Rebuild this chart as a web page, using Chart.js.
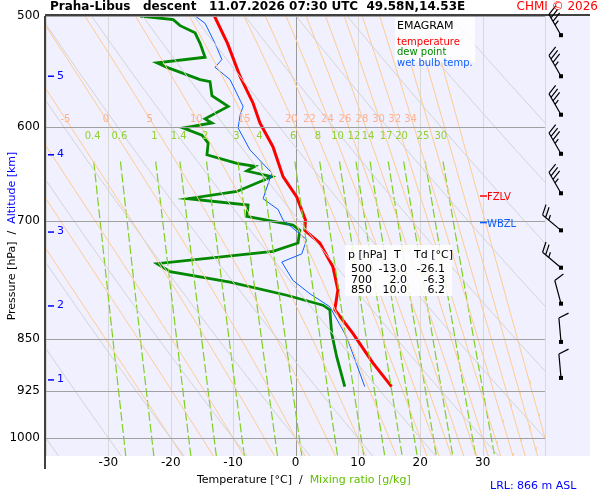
<!DOCTYPE html>
<html><head><meta charset="utf-8">
<script src="https://cdn.jsdelivr.net/npm/chart.js@4"></script>
<style>html,body{margin:0;padding:0;background:#fff}#w{width:600px;height:500px}</style>
</head><body><div id="w"><canvas id="c"></canvas></div>
<script>
// ---- data ----
const tempP = [500,523,552,577,596,620,651,673,699,711,726,755,784,810,842,884,919];
const tempT = [-13.0,-10.9,-8.9,-6.8,-5.7,-3.6,-2.0,0.2,1.6,1.5,3.9,6.0,6.8,6.3,9.2,12.4,15.4];
const dewP = [500,503,508,514,523,535,540,544,555,557,570,580,592,596,601,608,616,628,637,640,645,651,667,675,682,695,705,711,726,736,751,761,774,791,804,810,842,875,919];
const dewT = [-24.9,-19.6,-18.5,-16.1,-15.3,-14.5,-22.2,-20.6,-15.3,-13.7,-13.4,-10.8,-14.5,-13.4,-18.0,-15.0,-14.0,-14.2,-9.4,-6.5,-7.8,-3.8,-9.4,-17.2,-7.6,-7.8,-0.4,0.7,0.4,-3.6,-22.2,-20.1,-10.5,-1.4,4.4,5.5,5.8,6.6,7.9];
const wbP = [500,506,523,537,544,555,580,589,601,623,647,675,687,699,722,739,749,772,789,806,847,919];
const wbT = [-16.1,-14.5,-12.9,-11.8,-12.9,-10.5,-8.4,-8.9,-9.2,-7.3,-3.8,-5.2,-2.8,-2.0,1.8,1.0,-2.2,-0.4,2.3,5.5,8.2,11.1];
const pTicks = [500,600,700,850,925,1000];
const tTicks = [-30,-20,-10,0,10,20,30];
const altKm = [1,2,3,4,5];
const altP = [909,805,713,628,552];
const thetaWLabels = [-5,0,5,10,15,20,22,24,26,28,30,32,34];
const thetaWLines = [-20,-15,-10,-5,0,5,10,15,20,22,24,26,28,30,32,34,36,38,40];
const mixLabels = [0.4,0.6,1,1.4,2,3,4,6,8,10,12,14,17,20,25,30];
const dryTheta = [-40,-30,-20,-10,0,10,20,30,40,50,60,70,80,90];
const windP = [516,552,588,627,669,711,756,802,854,906];
const windDir = [330,330,330,330,330,310,310,345,355,355];
const windSpd = [35,35,35,35,35,25,25,10,10,10];
const statsP = [500,700,850];
const statsT = ['-13.0','2.0','10.0'];
const statsTd = ['-26.1','-6.3','6.2'];
const fzlvP = 672, wbzlP = 702;

// ---- physics for reference lines ----
const es = T => 6.112*Math.exp(17.67*T/(T+243.5));
function pseudo(tw){
  const Rd=287.04,cp=1005.7,Lv=2.501e6,eps=0.622;
  const f=(p,Tk)=>{const e=es(Tk-273.15);const rs=eps*e/(p-e);
    return (Rd*Tk+Lv*rs)/(p*(cp+Lv*Lv*rs*eps/(Rd*Tk*Tk)));};
  let pts=[];let T=tw+273.15,p=1000;
  for(;p>=495;p-=5){pts.push({x:T-273.15,y:p});T-=f(p,T)*5;}
  pts.reverse();T=tw+273.15;
  for(p=1000;p<=1035;p+=5){if(p>1000)pts.push({x:T-273.15,y:p});T+=f(p,T)*5;}
  return pts;
}
function mixTd(w,p){const e=w*p/(622+w);const l=Math.log(e/6.112);return 243.5*l/(17.67-l);}
function mixLine(w){const a=[];for(let p=635;p<=1035;p+=10)a.push({x:mixTd(w,p),y:p});return a;}
function dryLine(th){const a=[];for(let p=495;p<=1035;p+=10)a.push({x:(th+273.15)*Math.pow(p/1000,0.286)-273.15,y:p});return a;}
const zip=(P,T)=>P.map((p,i)=>({x:T[i],y:p}));

const ds=[];
dryTheta.forEach(t=>ds.push({data:dryLine(t),borderColor:'#d4d4d4',borderWidth:1,pointRadius:0,tension:0}));
thetaWLines.forEach(t=>ds.push({data:pseudo(t),borderColor:'#ffcc90',borderWidth:1,pointRadius:0,tension:0}));
mixLabels.forEach(w=>ds.push({data:mixLine(w),borderColor:'#80d020',borderWidth:1.2,borderDash:[9,3],pointRadius:0,tension:0}));
ds.push({data:zip(wbP,wbT),borderColor:'#1060ff',borderWidth:1,pointRadius:0});
ds.push({data:zip(dewP,dewT),borderColor:'#008800',borderWidth:2.8,pointRadius:0});
ds.push({data:zip(tempP,tempT),borderColor:'#ff0000',borderWidth:3,pointRadius:0});

const deco={id:'deco',
 beforeDraw(ch){const c=ch.ctx,a=ch.chartArea,x=ch.scales.x,y=ch.scales.y;
  c.save();c.fillStyle='#f0f0ff';c.fillRect(a.left,a.top,590-a.left,a.bottom-a.top);
  c.lineWidth=1;
  for(let t=-40;t<=40;t+=10){const px=Math.round(x.getPixelForValue(t))+0.5;c.strokeStyle=t===0?'#999':'#d8d8d8';c.beginPath();c.moveTo(px,a.top);c.lineTo(px,a.bottom);c.stroke();}
  c.restore();},
 afterDatasetsDraw(ch){const c=ch.ctx,a=ch.chartArea,x=ch.scales.x,y=ch.scales.y;
  c.save();c.strokeStyle='#a0a0a0';c.lineWidth=1.2;
  pTicks.forEach(p=>{const py=Math.round(y.getPixelForValue(p))+0.5;c.beginPath();c.moveTo(a.left,py);c.lineTo(a.right,py);c.stroke();});
  c.strokeStyle='#000';c.lineWidth=1.5;c.beginPath();c.moveTo(a.left-1,a.top);c.lineTo(a.left-1,469);c.stroke();
  c.beginPath();c.moveTo(a.left-1,a.top-1);c.lineTo(590,a.top-1);c.stroke();
  c.font='12px "DejaVu Sans"';c.fillStyle='#000';c.textAlign='right';c.textBaseline='middle';
  pTicks.forEach(p=>c.fillText(String(p),40,y.getPixelForValue(p)));
  c.textAlign='center';c.textBaseline='top';
  tTicks.forEach(t=>c.fillText(String(t),x.getPixelForValue(t),457));
  c.fillStyle='#0000ff';c.strokeStyle='#0000ff';c.textAlign='left';c.font='11px "DejaVu Sans"';
  altKm.forEach((k,i)=>{const py=y.getPixelForValue(altP[i]);c.beginPath();c.moveTo(a.left+2,py);c.lineTo(a.left+8,py);c.stroke();c.fillText(String(k),a.left+11,py-6);});
  c.font='10px "DejaVu Sans"';c.textAlign='center';c.textBaseline='alphabetic';c.fillStyle='#ffb090';
  thetaWLabels.forEach(t=>{const pts=pseudo(t);const q=pts.find(o=>o.y>=595);c.fillText(String(t),x.getPixelForValue(q.x)-2,y.getPixelForValue(595));});
  c.fillStyle='#90d030';
  mixLabels.forEach(w=>c.fillText(String(w),x.getPixelForValue(mixTd(w,615))+1,y.getPixelForValue(612)));
  c.fillStyle='rgba(255,255,255,0.85)';c.fillRect(395,17,80,45);
  c.textAlign='left';c.font='11px "DejaVu Sans"';c.fillStyle='#000';c.fillText('EMAGRAM',397,29);
  c.font='10px "DejaVu Sans"';c.fillStyle='#ff0000';c.fillText('temperature',397,45);
  c.fillStyle='#008800';c.fillText('dew point',397,55);c.fillStyle='#1060ff';c.fillText('wet bulb temp.',397,66);
  c.fillStyle='rgba(255,255,255,0.85)';c.fillRect(345,245,107,51);
  c.fillStyle='#000';c.font='11px "DejaVu Sans"';c.textAlign='left';
  c.fillText('p [hPa]',348,258);c.fillText('T',394,258);c.fillText('Td [°C]',414,258);
  c.textAlign='right';statsP.forEach((p,i)=>{const yy=272+i*10.5;c.fillText(String(p),372,yy);c.fillText(statsT[i],407,yy);c.fillText(statsTd[i],445,yy);});
  c.lineWidth=1.5;c.textAlign='left';c.font='10px "DejaVu Sans"';
  c.strokeStyle='#ff0000';c.fillStyle='#ff0000';let py=y.getPixelForValue(fzlvP);c.beginPath();c.moveTo(480,py);c.lineTo(487,py);c.stroke();c.fillText('FZLV',487,py+4);
  c.strokeStyle='#1060ff';c.fillStyle='#1060ff';py=y.getPixelForValue(wbzlP);c.beginPath();c.moveTo(480,py);c.lineTo(487,py);c.stroke();c.fillText('WBZL',487,py+4);
  c.strokeStyle='#000';c.fillStyle='#000';c.lineWidth=1.2;
  windP.forEach((p,i)=>{const bx=561,by=y.getPixelForValue(p);const r=windDir[i]*Math.PI/180;
    const dx=Math.sin(r),dy=-Math.cos(r);const L=24;const ex=bx+dx*L,ey=by+dy*L;
    c.fillRect(bx-2,by-2,4,4);c.beginPath();c.moveTo(bx,by);c.lineTo(ex,ey);
    let s=windSpd[i],k=0;const px=-dy,pyy=dx;
    while(s>=10){const sx=ex-dx*k*4,sy=ey-dy*k*4;c.moveTo(sx,sy);c.lineTo(sx+(px*10+dx*4),sy+(pyy*10+dy*4));s-=10;k++;}
    if(s>=5){const sx=ex-dx*k*4,sy=ey-dy*k*4;c.moveTo(sx,sy);c.lineTo(sx+(px*5+dx*2),sy+(pyy*5+dy*2));}
    c.stroke();});
  c.fillStyle='#000';c.font='bold 12px "DejaVu Sans"';c.textAlign='left';c.textBaseline='middle';
  c.fillText('Praha-Libus   descent   11.07.2026 07:30 UTC  49.58N,14.53E',50,7);
  c.fillStyle='#ff0000';c.font='12px "DejaVu Sans"';c.textAlign='right';c.fillText('CHMI © 2026',598,7);
  c.fillStyle='#000';c.textAlign='left';c.font='11px "DejaVu Sans"';
  c.fillText('Temperature [°C]  /  ',197,480);c.fillStyle='#60c000';c.fillText('Mixing ratio [g/kg]',197+c.measureText('Temperature [°C]  /  ').width,480);
  c.fillStyle='#0000ff';c.fillText('LRL: 866 m ASL',490,486);
  c.translate(12,236);c.rotate(-Math.PI/2);c.font='11px "DejaVu Sans"';
  const t1='Pressure [hPa]  /  ',t2='Altitude [km]';const w1=c.measureText(t1).width,w2=c.measureText(t2).width;
  c.textAlign='left';c.fillStyle='#000';c.fillText(t1,-(w1+w2)/2,0);c.fillStyle='#0000ff';c.fillText(t2,-(w1+w2)/2+w1,0);
  c.restore();}
};

new Chart(document.getElementById('c'),{type:'line',data:{datasets:ds},
 options:{responsive:true,maintainAspectRatio:false,animation:false,
  layout:{padding:{left:46,right:55,top:16,bottom:44}},
  plugins:{legend:{display:false},tooltip:{enabled:false}},
  elements:{line:{fill:false}},
  scales:{x:{type:'linear',min:-40,max:40,display:false},
          y:{type:'logarithmic',min:500,max:1030,reverse:true,display:false}}},
 plugins:[deco]});
</script></body></html>
